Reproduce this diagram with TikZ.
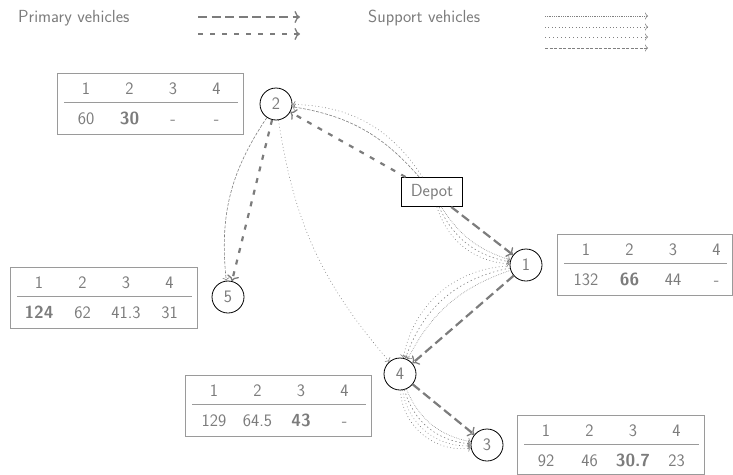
\documentclass[tikz,border=0pt]{standalone}
\usepackage{fontspec}
\usetikzlibrary{arrows.meta}
\definecolor{inkgray}{HTML}{7C7C7C}
\definecolor{linegray}{HTML}{808080}
\definecolor{framegray}{HTML}{9A9A9A}

% Table of values attached to a site:
% #1 name, #2 left, #3 top, #4 width, #5 height, #6-#9 values for 1..4 vehicles
\newcommand\datatable[9]{%
  \begin{scope}[shift={(#2,#3)}]
    \node[tablebox, minimum width=#4pt, minimum height=#5pt] (#1) at (0,0) {};
    \node[txt] (#1h1) at (29,15.5) {1};
    \node[txt] (#1h2) at (72.5,15.5) {2};
    \node[txt] (#1h3) at (116,15.5) {3};
    \node[txt] (#1h4) at (159.5,15.5) {4};
    \draw[draw=framegray, line width=0.9pt] (7,29.5) -- ({#4-5},29.5);
    \node[txt] (#1v1) at (29,45.5) {#6};
    \node[txt] (#1v2) at (72.5,45.5) {#7};
    \node[txt] (#1v3) at (116,45.5) {#8};
    \node[txt] (#1v4) at (159.5,45.5) {#9};
  \end{scope}}

\begin{document}
\begin{tikzpicture}[x=1pt,y=-1pt,
  font=\fontsize{17.5}{20}\selectfont\sffamily,
  txt/.style={text=inkgray, inner sep=0pt, text height=11pt, text depth=0pt},
  site/.style={circle, draw=black, line width=0.8pt, minimum size=32pt, inner sep=0pt,
    text=inkgray, text height=11pt, text depth=0pt},
  depotbox/.style={rectangle, draw=black, line width=0.8pt, minimum width=61pt,
    minimum height=29pt, inner sep=0pt, text=inkgray},
  tablebox/.style={rectangle, draw=framegray, line width=0.9pt, anchor=north west, inner sep=0pt},
  primary/.style={draw=inkgray, line width=2.2pt, -{To[length=5.5pt,width=12pt,line width=1.3pt]}},
  pone/.style={primary, dash pattern=on 9pt off 4.5pt},
  ptwo/.style={primary, dash pattern=on 5pt off 7pt},
  support/.style={draw=linegray, line width=0.6pt, -{To[length=3pt,width=7pt,line width=0.6pt]}},
  sone/.style={support, dash pattern=on 0.6pt off 1.2pt},
  stwo/.style={support, dash pattern=on 0.8pt off 2.6pt},
  sthree/.style={support, dash pattern=on 1.4pt off 2.6pt},
  sfour/.style={support, dash pattern=on 3pt off 1.5pt},
]
\useasboundingbox (0,0) rectangle (733,474);

% legend
\node[txt, anchor=west] (primlabel) at (18,17) {Primary vehicles};
\node[txt, anchor=west] (supplabel) at (368,17) {Support vehicles};
\coordinate (pa1) at (198,17);  \coordinate (pb1) at (300,17);
\coordinate (pa2) at (198,34);  \coordinate (pb2) at (300,34);
\draw[pone] (pa1) -- (pb1);
\draw[ptwo] (pa2) -- (pb2);
\coordinate (sa1) at (545,16);  \coordinate (sb1) at (648,16);
\coordinate (sa2) at (545,27);  \coordinate (sb2) at (648,27);
\coordinate (sa3) at (545,37);  \coordinate (sb3) at (648,37);
\coordinate (sa4) at (545,48);  \coordinate (sb4) at (648,48);
\draw[sone] (sa1) -- (sb1);
\draw[stwo] (sa2) -- (sb2);
\draw[sthree] (sa3) -- (sb3);
\draw[sfour] (sa4) -- (sb4);

% sites
\node[depotbox] (depot) at (432,192) {Depot};
\node[site] (n1) at (526,265) {1};
\node[site] (n2) at (276,104) {2};
\node[site] (n3) at (487,445) {3};
\node[site] (n4) at (400,374) {4};
\node[site] (n5) at (228,297) {5};

% tables
\datatable{t2}{57}{73}{186}{61}{60}{\textbf{30}}{-}{-}
\datatable{t5}{10}{267}{187}{61}{\textbf{124}}{62}{41.3}{31}
\datatable{t1}{557}{234}{175}{61}{132}{\textbf{66}}{44}{-}
\datatable{t4}{185}{375}{186}{61}{129}{64.5}{\textbf{43}}{-}
\datatable{t3}{517}{415}{187}{58.5}{92}{46}{\textbf{30.7}}{23}

% primary vehicle routes
\draw[pone] (depot) -- (n1);
\draw[pone] (n1) -- (n4);
\draw[pone] (n4) -- (n3);
\draw[ptwo] (depot) -- (n2);
\draw[ptwo] (n2) -- (n5);

% support vehicle routes
\draw[sfour] (depot) to[bend right=20] (n2);
\draw[stwo] (depot) to[bend right=28] (n2);
\draw[sfour] (n2) to[bend right=20] (n5);
\draw[stwo] (n2) to[bend right=16] (n4);
\draw[sone] (depot) to[bend right=20] (n1);
\draw[sthree] (depot) to[bend right=27] (n1);
\draw[stwo] (depot) to[bend right=34] (n1);
\draw[sone] (n1) to[bend right=22] (n4);
\draw[sthree] (n1) to[bend right=30] (n4);
\draw[stwo] (n1) to[bend right=38] (n4);
\draw[sone] (n4) to[bend right=28] (n3);
\draw[sthree] (n4) to[bend right=35] (n3);
\draw[stwo] (n4) to[bend right=42] (n3);
\draw[stwo] (n4) to[bend right=49] (n3);
\end{tikzpicture}
\end{document}
